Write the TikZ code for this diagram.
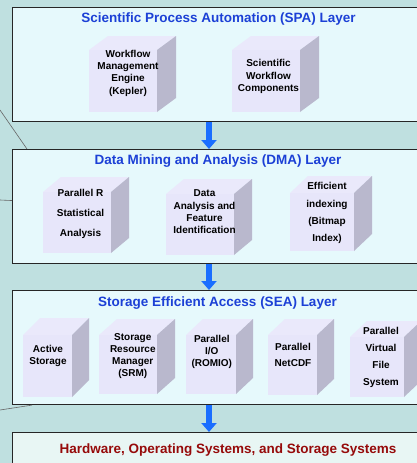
\documentclass[tikz,border=0pt]{standalone}
\usepackage{fontspec}
\setmainfont{Liberation Sans}
\usetikzlibrary{calc, arrows.meta}

\definecolor{bgteal}{RGB}{191,224,224}
\definecolor{layerfill}{RGB}{230,249,252}
\definecolor{hwfill}{RGB}{232,246,244}
\definecolor{titleblue}{RGB}{28,64,214}
\definecolor{hwred}{RGB}{150,10,10}
\definecolor{flowblue}{RGB}{26,110,255}
\definecolor{cubefront}{RGB}{231,230,250}
\definecolor{cubetop}{RGB}{234,233,251}
\definecolor{cubeside}{RGB}{185,184,205}

\begin{document}
\begin{tikzpicture}[x=1pt, y=-1pt]

  \tikzset{layer/.style={draw=black!85, line width=1.1pt, fill=layerfill, anchor=north west,
      minimum width=418pt, minimum height=114pt, inner sep=0pt}}
  \tikzset{layertitle/.style={anchor=base, text=titleblue, font=\fontsize{13.5}{16}\selectfont\bfseries}}
  \tikzset{cubetext/.style={align=center, inner sep=0pt, font=\fontsize{10}{12.3}\selectfont\bfseries}}
  \tikzset{flow/.style={draw=flowblue, line width=6pt, -{Triangle[width=15pt, length=9pt]}}}
  \tikzset{callout/.style={draw=black!60, line width=0.6pt}}

  \clip (0,0) rectangle (417,463);
  \fill[bgteal] (0,0) rectangle (417,463);

  % layers
  \node[layer] (spa) at (12,7) {};
  \node[layer] (dma) at (12,149) {};
  \node[layer] (sea) at (12,290) {};
  \node[layer, fill=hwfill, minimum height=60pt] (hw) at (12,432) {};

  \node[layertitle] (spa-t) at (218.5,22.7) {Scientific Process Automation (SPA) Layer};
  \node[layertitle] (dma-t) at (218,164.3) {Data Mining and Analysis (DMA) Layer};
  \node[layertitle] (sea-t) at (217.5,306) {Storage Efficient Access (SEA) Layer};
  \node[layertitle, text=hwred] (hw-t) at (228,453.3) {Hardware, Operating Systems, and Storage Systems};

  % cubes: front corner x/y, width/height, depth
  \foreach \x/\y/\w/\h/\dx/\dy in {89/50/68/62/19/14, 232/50/68/62/19/14,
      43/192/68/61/18/15, 166/194/68/61/18/15, 290/193/64/58/18/17,
      23/335/49/62/17/17, 99/335/58/59/18/16, 186/335/50/59/17/16,
      268/335/49/60/17/16, 350/337/54/60/17/16} {
    \fill[cubefront] (\x,\y) rectangle ++(\w,\h);
    \fill[cubetop] (\x,\y) -- ++(\dx,-\dy) -- ++(\w,0) -- ++(-\dx,\dy) -- cycle;
    \fill[cubeside] (\x+\w,\y) -- ++(\dx,-\dy) -- ++(0,\h) -- ++(-\dx,\dy) -- cycle;
  }

  % SPA
  \node[cubetext] (wfe) at (128,73) {Workflow\\Management\\Engine\\(Kepler)};
  \node[cubetext] (swc) at (268.5,76.7) {Scientific\\Workflow\\Components};

  % DMA
  \node[cubetext] (prs) at (80.5,214.3) {Parallel R\\[7.7pt]Statistical\\[7.7pt]Analysis};
  \node[cubetext] (dafi) at (204.5,212) {Data\\Analysis and\\Feature\\Identification};
  \node[cubetext] (bmi) at (327,213.2) {Efficient\\[5pt]indexing\\[5pt](Bitmap\\[5pt]Index)};

  % SEA
  \node[cubetext] (act) at (48,355.8) {Active\\Storage};
  \node[cubetext] (srm) at (132.8,356) {Storage\\Resource\\Manager\\(SRM)};
  \node[cubetext] (pio) at (211.8,351.8) {Parallel\\I/O\\(ROMIO)};
  \node[cubetext] (pnc) at (293,355) {Parallel\\[4.4pt]NetCDF};
  \node[cubetext] (pvfs) at (381,357.5) {Parallel\\[5pt]Virtual\\[4.5pt]File\\[4.5pt]System};

  % arrows between layers
  \coordinate (ax) at (209,0);
  \draw[flow] (spa.south -| ax) -- (dma.north -| ax);
  \draw[flow] (dma.south -| ax) -- (sea.north -| ax);
  \draw[flow] (sea.south -| ax) -- (hw.north -| ax);

  % callout lines
  \coordinate (c1) at (0,110);
  \coordinate (c2) at (0,200);
  \coordinate (c3) at (0,410);
  \draw[callout] (c1) -- ($(dma.north west)+(15,0)$);
  \draw[callout] (c2) -- ($(dma.west)+(0,-6)$);
  \draw[callout] (c3) -- ($(sea.south west)+(20,0)$);
\end{tikzpicture}
\end{document}
